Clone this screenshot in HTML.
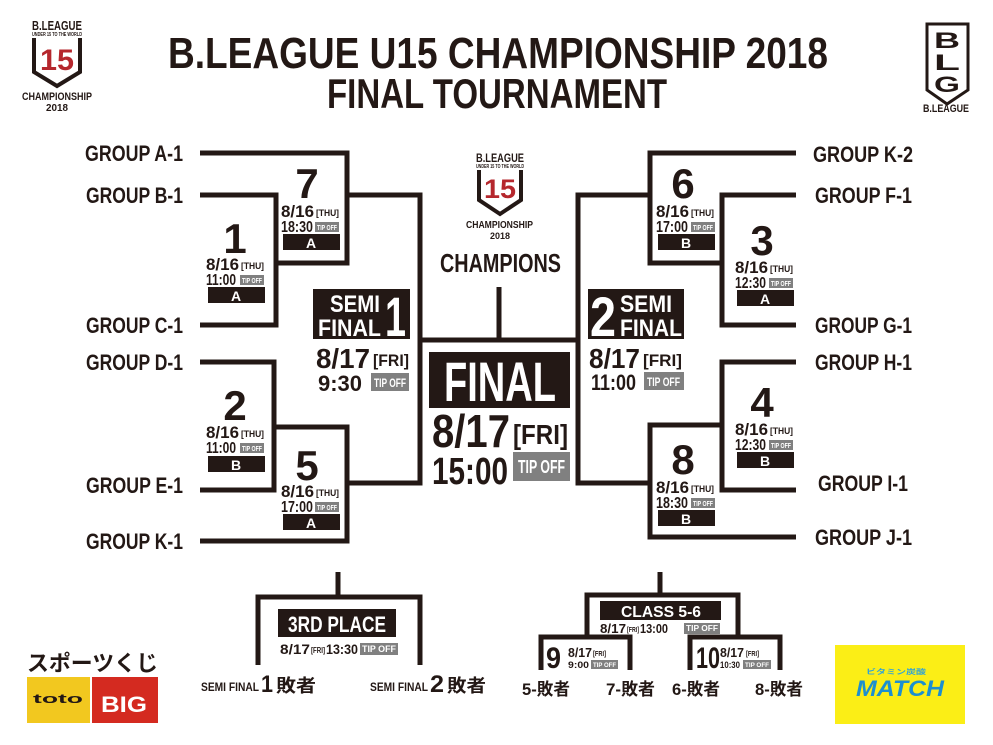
<!DOCTYPE html>
<html><head><meta charset="utf-8"><style>
html,body{margin:0;padding:0;background:#fff;width:993px;height:745px;overflow:hidden}
svg{display:block}
text{font-family:"Liberation Sans Narrow","Liberation Sans","Noto Sans CJK JP",sans-serif;font-weight:bold;fill:#231815}
.w{fill:#fff}
</style></head><body>
<svg width="993" height="745" viewBox="0 0 993 745" xmlns="http://www.w3.org/2000/svg">
<!-- Title -->
<text x="168" y="68" font-size="44" textLength="660" lengthAdjust="spacingAndGlyphs">B.LEAGUE U15 CHAMPIONSHIP 2018</text>
<text x="327" y="108" font-size="42" textLength="340" lengthAdjust="spacingAndGlyphs">FINAL TOURNAMENT</text>

<!-- left logo -->
<g>
<text x="32" y="30" font-size="13" textLength="50" lengthAdjust="spacingAndGlyphs">B.LEAGUE</text>
<text x="32" y="36" font-size="5" textLength="50" lengthAdjust="spacingAndGlyphs">UNDER 15 TO THE WORLD</text>
<path d="M34 38 V72 L57 86 L80 72 V38" fill="none" stroke="#231815" stroke-width="4"/>
<text x="40" y="70" font-size="30" style="fill:#b5272d" textLength="34" lengthAdjust="spacingAndGlyphs">15</text>
<text x="22" y="100" font-size="11" textLength="70" lengthAdjust="spacingAndGlyphs">CHAMPIONSHIP</text>
<text x="46" y="111" font-size="10" textLength="22" lengthAdjust="spacingAndGlyphs">2018</text>
</g>
<!-- right logo -->
<g>
<path d="M927 24 H968 V90 L947 104 L927 90 Z" fill="none" stroke="#231815" stroke-width="3"/>
<text x="934" y="48" font-size="22" transform="rotate(0)" textLength="26" lengthAdjust="spacingAndGlyphs">B</text>
<text x="934" y="70" font-size="22" textLength="26" lengthAdjust="spacingAndGlyphs">L</text>
<text x="934" y="92" font-size="22" textLength="26" lengthAdjust="spacingAndGlyphs">G</text>
<text x="923" y="112" font-size="11" textLength="46" lengthAdjust="spacingAndGlyphs">B.LEAGUE</text>
</g>

<!-- bracket lines -->
<g fill="none" stroke="#231815" stroke-width="5">
<path d="M200 153 H347 V263 H276"/>
<path d="M200 195 H276 V325 H200"/>
<path d="M347 195 H420 V483 H347"/>
<path d="M200 362 H274 V490 H200"/>
<path d="M200 541 H347 V427 H274"/>
<path d="M420 340 H578"/>
<path d="M650 195 H578 V483 H650"/>
<path d="M796 153 H650 V263 H722"/>
<path d="M796 195 H722 V325 H796"/>
<path d="M796 362 H722 V490 H796"/>
<path d="M796 537 H650 V425 H722"/>
<path d="M499 287 V340"/>
<path d="M338 572 V597"/>
<path d="M258 665 V597 H420 V665"/>
<path d="M660 572 V595"/>
<path d="M587 637 V595 H738 V637"/>
<path d="M541 670 V637 H630 V670"/>
<path d="M690 670 V637 H780 V670"/>
</g>

<!-- group labels -->
<g font-size="22">
<text x="85" y="161" textLength="98" lengthAdjust="spacingAndGlyphs">GROUP A-1</text>
<text x="86" y="203" textLength="97" lengthAdjust="spacingAndGlyphs">GROUP B-1</text>
<text x="86" y="333" textLength="97" lengthAdjust="spacingAndGlyphs">GROUP C-1</text>
<text x="86" y="370" textLength="97" lengthAdjust="spacingAndGlyphs">GROUP D-1</text>
<text x="86" y="493" textLength="97" lengthAdjust="spacingAndGlyphs">GROUP E-1</text>
<text x="86" y="549" textLength="97" lengthAdjust="spacingAndGlyphs">GROUP K-1</text>
<text x="813" y="162" textLength="100" lengthAdjust="spacingAndGlyphs">GROUP K-2</text>
<text x="815" y="203" textLength="97" lengthAdjust="spacingAndGlyphs">GROUP F-1</text>
<text x="815" y="333" textLength="97" lengthAdjust="spacingAndGlyphs">GROUP G-1</text>
<text x="815" y="370" textLength="97" lengthAdjust="spacingAndGlyphs">GROUP H-1</text>
<text x="818" y="491" textLength="90" lengthAdjust="spacingAndGlyphs">GROUP I-1</text>
<text x="815" y="545" textLength="97" lengthAdjust="spacingAndGlyphs">GROUP J-1</text>
</g>

<!-- match blocks -->
<g id="m7">
<text x="307" y="198" font-size="42" text-anchor="middle">7</text>
<text x="281" y="217" font-size="17" textLength="33" lengthAdjust="spacingAndGlyphs">8/16</text><text x="316" y="216" font-size="9" textLength="23" lengthAdjust="spacingAndGlyphs">[THU]</text>
<text x="281" y="232" font-size="16" textLength="32" lengthAdjust="spacingAndGlyphs">18:30</text><rect x="315" y="222" width="24" height="10" fill="#808080"/><text x="317" y="230" font-size="7" class="w" textLength="20" lengthAdjust="spacingAndGlyphs">TIP OFF</text>
<rect x="283" y="234" width="57" height="16" fill="#231815"/><text x="311" y="248" font-size="14" class="w" text-anchor="middle">A</text>
</g>
<g>
<text x="235" y="253" font-size="42" text-anchor="middle">1</text>
<text x="206" y="270" font-size="17" textLength="33" lengthAdjust="spacingAndGlyphs">8/16</text><text x="241" y="269" font-size="9" textLength="23" lengthAdjust="spacingAndGlyphs">[THU]</text>
<text x="206" y="285" font-size="16" textLength="30" lengthAdjust="spacingAndGlyphs">11:00</text><rect x="240" y="275" width="24" height="10" fill="#808080"/><text x="242" y="283" font-size="7" class="w" textLength="20" lengthAdjust="spacingAndGlyphs">TIP OFF</text>
<rect x="208" y="287" width="57" height="16" fill="#231815"/><text x="236" y="301" font-size="14" class="w" text-anchor="middle">A</text>
</g>
<g>
<text x="235" y="420" font-size="42" text-anchor="middle">2</text>
<text x="206" y="438" font-size="17" textLength="33" lengthAdjust="spacingAndGlyphs">8/16</text><text x="241" y="437" font-size="9" textLength="23" lengthAdjust="spacingAndGlyphs">[THU]</text>
<text x="206" y="453" font-size="16" textLength="30" lengthAdjust="spacingAndGlyphs">11:00</text><rect x="240" y="443" width="24" height="10" fill="#808080"/><text x="242" y="451" font-size="7" class="w" textLength="20" lengthAdjust="spacingAndGlyphs">TIP OFF</text>
<rect x="208" y="456" width="57" height="16" fill="#231815"/><text x="236" y="470" font-size="14" class="w" text-anchor="middle">B</text>
</g>
<g>
<text x="307" y="480" font-size="42" text-anchor="middle">5</text>
<text x="281" y="497" font-size="17" textLength="33" lengthAdjust="spacingAndGlyphs">8/16</text><text x="316" y="496" font-size="9" textLength="23" lengthAdjust="spacingAndGlyphs">[THU]</text>
<text x="281" y="512" font-size="16" textLength="32" lengthAdjust="spacingAndGlyphs">17:00</text><rect x="315" y="502" width="24" height="10" fill="#808080"/><text x="317" y="510" font-size="7" class="w" textLength="20" lengthAdjust="spacingAndGlyphs">TIP OFF</text>
<rect x="283" y="514" width="57" height="16" fill="#231815"/><text x="311" y="528" font-size="14" class="w" text-anchor="middle">A</text>
</g>
<g>
<text x="683" y="198" font-size="42" text-anchor="middle">6</text>
<text x="656" y="217" font-size="17" textLength="33" lengthAdjust="spacingAndGlyphs">8/16</text><text x="691" y="216" font-size="9" textLength="23" lengthAdjust="spacingAndGlyphs">[THU]</text>
<text x="656" y="232" font-size="16" textLength="32" lengthAdjust="spacingAndGlyphs">17:00</text><rect x="691" y="222" width="24" height="10" fill="#808080"/><text x="693" y="230" font-size="7" class="w" textLength="20" lengthAdjust="spacingAndGlyphs">TIP OFF</text>
<rect x="658" y="234" width="57" height="16" fill="#231815"/><text x="686" y="248" font-size="14" class="w" text-anchor="middle">B</text>
</g>
<g>
<text x="762" y="255" font-size="42" text-anchor="middle">3</text>
<text x="735" y="273" font-size="17" textLength="33" lengthAdjust="spacingAndGlyphs">8/16</text><text x="770" y="272" font-size="9" textLength="23" lengthAdjust="spacingAndGlyphs">[THU]</text>
<text x="735" y="288" font-size="16" textLength="31" lengthAdjust="spacingAndGlyphs">12:30</text><rect x="769" y="278" width="24" height="10" fill="#808080"/><text x="771" y="286" font-size="7" class="w" textLength="20" lengthAdjust="spacingAndGlyphs">TIP OFF</text>
<rect x="737" y="290" width="57" height="16" fill="#231815"/><text x="765" y="304" font-size="14" class="w" text-anchor="middle">A</text>
</g>
<g>
<text x="762" y="417" font-size="42" text-anchor="middle">4</text>
<text x="735" y="435" font-size="17" textLength="33" lengthAdjust="spacingAndGlyphs">8/16</text><text x="770" y="434" font-size="9" textLength="23" lengthAdjust="spacingAndGlyphs">[THU]</text>
<text x="735" y="450" font-size="16" textLength="31" lengthAdjust="spacingAndGlyphs">12:30</text><rect x="769" y="440" width="24" height="10" fill="#808080"/><text x="771" y="448" font-size="7" class="w" textLength="20" lengthAdjust="spacingAndGlyphs">TIP OFF</text>
<rect x="737" y="452" width="57" height="16" fill="#231815"/><text x="765" y="466" font-size="14" class="w" text-anchor="middle">B</text>
</g>
<g>
<text x="683" y="474" font-size="42" text-anchor="middle">8</text>
<text x="656" y="493" font-size="17" textLength="33" lengthAdjust="spacingAndGlyphs">8/16</text><text x="691" y="492" font-size="9" textLength="23" lengthAdjust="spacingAndGlyphs">[THU]</text>
<text x="656" y="508" font-size="16" textLength="32" lengthAdjust="spacingAndGlyphs">18:30</text><rect x="691" y="498" width="24" height="10" fill="#808080"/><text x="693" y="506" font-size="7" class="w" textLength="20" lengthAdjust="spacingAndGlyphs">TIP OFF</text>
<rect x="658" y="510" width="57" height="16" fill="#231815"/><text x="686" y="524" font-size="14" class="w" text-anchor="middle">B</text>
</g>

<!-- Semi 1 -->
<rect x="313" y="289" width="97" height="50" fill="#231815"/>
<text x="330" y="312" font-size="24" class="w" textLength="50" lengthAdjust="spacingAndGlyphs">SEMI</text>
<text x="318" y="336" font-size="24" class="w" textLength="63" lengthAdjust="spacingAndGlyphs">FINAL</text>
<text x="385" y="336" font-size="56" class="w" textLength="21" lengthAdjust="spacingAndGlyphs">1</text>
<text x="316" y="368" font-size="28" textLength="54" lengthAdjust="spacingAndGlyphs">8/17</text>
<text x="373" y="366" font-size="17" textLength="36" lengthAdjust="spacingAndGlyphs">[FRI]</text>
<text x="318" y="391" font-size="22" textLength="44" lengthAdjust="spacingAndGlyphs">9:30</text>
<rect x="371" y="373" width="38" height="18" fill="#808080"/><text x="374" y="387" font-size="12" class="w" textLength="32" lengthAdjust="spacingAndGlyphs">TIP OFF</text>

<!-- Semi 2 -->
<rect x="588" y="289" width="96" height="50" fill="#231815"/>
<text x="590" y="336" font-size="56" class="w" textLength="26" lengthAdjust="spacingAndGlyphs">2</text>
<text x="620" y="312" font-size="24" class="w" textLength="52" lengthAdjust="spacingAndGlyphs">SEMI</text>
<text x="620" y="336" font-size="24" class="w" textLength="62" lengthAdjust="spacingAndGlyphs">FINAL</text>
<text x="589" y="368" font-size="28" textLength="51" lengthAdjust="spacingAndGlyphs">8/17</text>
<text x="643" y="366" font-size="17" textLength="39" lengthAdjust="spacingAndGlyphs">[FRI]</text>
<text x="591" y="390" font-size="22" textLength="45" lengthAdjust="spacingAndGlyphs">11:00</text>
<rect x="644" y="372" width="40" height="18" fill="#808080"/><text x="647" y="386" font-size="12" class="w" textLength="33" lengthAdjust="spacingAndGlyphs">TIP OFF</text>

<!-- Champions logo -->
<text x="476" y="162" font-size="12" textLength="48" lengthAdjust="spacingAndGlyphs">B.LEAGUE</text>
<text x="476" y="168" font-size="5" textLength="48" lengthAdjust="spacingAndGlyphs">UNDER 15 TO THE WORLD</text>
<path d="M479 170 V200 L500 214 L521 200 V170" fill="none" stroke="#231815" stroke-width="4"/>
<text x="484" y="198" font-size="27" style="fill:#b5272d" textLength="32" lengthAdjust="spacingAndGlyphs">15</text>
<text x="466" y="228" font-size="10" textLength="67" lengthAdjust="spacingAndGlyphs">CHAMPIONSHIP</text>
<text x="490" y="239" font-size="9" textLength="20" lengthAdjust="spacingAndGlyphs">2018</text>
<text x="440" y="272" font-size="26" textLength="121" lengthAdjust="spacingAndGlyphs">CHAMPIONS</text>

<!-- Final -->
<rect x="429" y="352" width="141" height="56" fill="#231815"/>
<text x="444" y="401" font-size="56" class="w" textLength="112" lengthAdjust="spacingAndGlyphs">FINAL</text>
<text x="432" y="447" font-size="46" textLength="78" lengthAdjust="spacingAndGlyphs">8/17</text>
<text x="513" y="444" font-size="28" textLength="55" lengthAdjust="spacingAndGlyphs">[FRI]</text>
<text x="432" y="484" font-size="38" textLength="76" lengthAdjust="spacingAndGlyphs">15:00</text>
<rect x="513" y="452" width="57" height="29" fill="#808080"/><text x="518" y="473" font-size="18" class="w" textLength="47" lengthAdjust="spacingAndGlyphs">TIP OFF</text>

<!-- 3rd place -->
<rect x="278" y="609" width="118" height="28" fill="#231815"/>
<text x="288" y="632" font-size="22" class="w" textLength="98" lengthAdjust="spacingAndGlyphs">3RD PLACE</text>
<text x="280" y="654" font-size="14" textLength="30" lengthAdjust="spacingAndGlyphs">8/17</text>
<text x="311" y="653" font-size="8" textLength="14" lengthAdjust="spacingAndGlyphs">[FRI]</text>
<text x="326" y="654" font-size="14" textLength="32" lengthAdjust="spacingAndGlyphs">13:30</text>
<rect x="360" y="643" width="38" height="12" fill="#808080"/><text x="362" y="652" font-size="9" class="w" textLength="34" lengthAdjust="spacingAndGlyphs">TIP OFF</text>
<text x="201" y="691" font-size="12" textLength="58" lengthAdjust="spacingAndGlyphs">SEMI FINAL</text>
<text x="261" y="692" font-size="24" textLength="12" lengthAdjust="spacingAndGlyphs">1</text>
<text x="276" y="692" font-size="18" textLength="40" lengthAdjust="spacingAndGlyphs">敗者</text>
<text x="370" y="691" font-size="12" textLength="58" lengthAdjust="spacingAndGlyphs">SEMI FINAL</text>
<text x="430" y="692" font-size="24" textLength="14" lengthAdjust="spacingAndGlyphs">2</text>
<text x="447" y="692" font-size="18" textLength="39" lengthAdjust="spacingAndGlyphs">敗者</text>

<!-- Class 5-6 -->
<rect x="600" y="601" width="121" height="19" fill="#231815"/>
<text x="621" y="617" font-size="16" class="w" textLength="80" lengthAdjust="spacingAndGlyphs">CLASS 5-6</text>
<text x="600" y="633" font-size="13" textLength="26" lengthAdjust="spacingAndGlyphs">8/17</text>
<text x="627" y="632" font-size="7" textLength="12" lengthAdjust="spacingAndGlyphs">[FRI]</text>
<text x="640" y="633" font-size="13" textLength="28" lengthAdjust="spacingAndGlyphs">13:00</text>
<rect x="684" y="623" width="36" height="11" fill="#808080"/><text x="686" y="631" font-size="8" class="w" textLength="32" lengthAdjust="spacingAndGlyphs">TIP OFF</text>
<text x="546" y="668" font-size="30" textLength="15" lengthAdjust="spacingAndGlyphs">9</text>
<text x="568" y="657" font-size="13" textLength="24" lengthAdjust="spacingAndGlyphs">8/17</text>
<text x="593" y="656" font-size="7" textLength="13" lengthAdjust="spacingAndGlyphs">[FRI]</text>
<text x="568" y="668" font-size="9" textLength="21" lengthAdjust="spacingAndGlyphs">9:00</text>
<rect x="591" y="660" width="27" height="9" fill="#808080"/><text x="593" y="667" font-size="6" class="w" textLength="23" lengthAdjust="spacingAndGlyphs">TIP OFF</text>
<text x="696" y="668" font-size="30" textLength="24" lengthAdjust="spacingAndGlyphs">10</text>
<text x="720" y="657" font-size="13" textLength="24" lengthAdjust="spacingAndGlyphs">8/17</text>
<text x="746" y="656" font-size="7" textLength="13" lengthAdjust="spacingAndGlyphs">[FRI]</text>
<text x="720" y="668" font-size="9" textLength="20" lengthAdjust="spacingAndGlyphs">10:30</text>
<rect x="743" y="660" width="28" height="9" fill="#808080"/><text x="745" y="667" font-size="6" class="w" textLength="24" lengthAdjust="spacingAndGlyphs">TIP OFF</text>
<g font-size="17">
<text x="522" y="695" textLength="48" lengthAdjust="spacingAndGlyphs">5-敗者</text>
<text x="606" y="695" textLength="49" lengthAdjust="spacingAndGlyphs">7-敗者</text>
<text x="672" y="695" textLength="48" lengthAdjust="spacingAndGlyphs">6-敗者</text>
<text x="755" y="695" textLength="48" lengthAdjust="spacingAndGlyphs">8-敗者</text>
</g>

<!-- Sponsor logos -->
<text x="27" y="671" font-size="22" textLength="131" lengthAdjust="spacingAndGlyphs">スポーツくじ</text>
<rect x="27" y="677" width="63" height="46" fill="#f2c81f"/>
<text x="33" y="703" font-size="13" textLength="50" lengthAdjust="spacingAndGlyphs">toto</text>
<rect x="92" y="677" width="66" height="46" fill="#d42a20"/>
<text x="101" y="712" font-size="22" class="w" textLength="46" lengthAdjust="spacingAndGlyphs">BIG</text>
<rect x="835" y="645" width="130" height="79" fill="#fbee16"/>
<text x="866" y="674" font-size="7" style="fill:#2ea2d9" textLength="60" lengthAdjust="spacingAndGlyphs">ビタミン炭酸</text>
<text x="856" y="696" font-size="22" font-style="italic" style="fill:#1c8fd0" textLength="88" lengthAdjust="spacingAndGlyphs">MATCH</text>
</svg>
</body></html>
